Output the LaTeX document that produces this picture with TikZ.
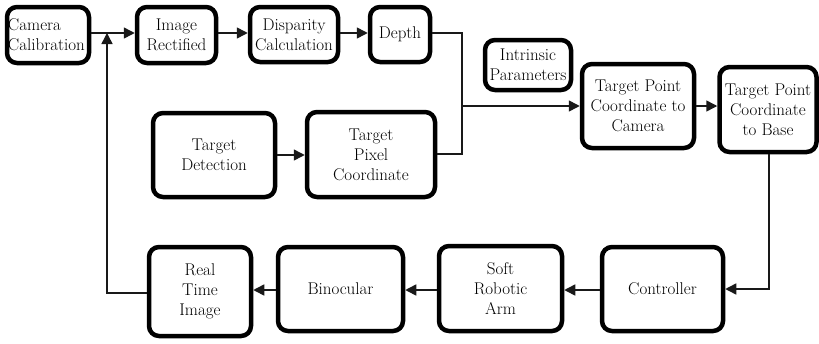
\documentclass[tikz,border=0pt]{standalone}
\usetikzlibrary{arrows.meta}
\begin{document}
\begin{tikzpicture}[x=1pt,y=-1pt,
  box/.style={draw=black, line width=4.5pt, rounded corners=10pt, inner sep=0pt,
    align=center, font=\rmfamily\fontsize{17}{20}\selectfont, text=black},
  conn/.style={line width=1.5pt, draw=black!90},
  arr/.style={conn, -{Triangle[length=11pt,width=11pt]}}]
\useasboundingbox (0,0) rectangle (819,343);
% top row
\node[box, minimum width=82pt, minimum height=56pt, align=left, text width=80pt] (cc) at (48,35) {Camera\\Calibration};
\node[box, minimum width=79pt, minimum height=56pt] (ir) at (176.5,35) {Image\\Rectified};
\node[box, minimum width=88pt, minimum height=55pt] (dc) at (294,34.5) {Disparity\\Calculation};
\node[box, minimum width=60pt, minimum height=55pt] (dp) at (400,34.5) {Depth};
% middle
\node[box, minimum width=122pt, minimum height=84pt] (td) at (214,155) {Target\\Detection};
\node[box, minimum width=128pt, minimum height=85pt] (tp) at (371,154.5) {Target\\Pixel\\Coordinate};
\node[box, minimum width=86pt, minimum height=50pt] (ip) at (528,65) {Intrinsic\\Parameters};
\node[box, minimum width=112pt, minimum height=84pt] (tc) at (638,106) {Target Point\\Coordinate to\\Camera};
\node[box, minimum width=97pt, minimum height=85pt] (tb) at (768,109.5) {Target Point\\Coordinate\\to Base};
% bottom row
\node[box, minimum width=102pt, minimum height=89pt] (rt) at (200,291.5) {Real\\Time\\Image};
\node[box, minimum width=125pt, minimum height=84pt] (bn) at (340.5,289) {Binocular};
\node[box, minimum width=123pt, minimum height=85pt] (sa) at (500.5,288.5) {Soft\\Robotic\\Arm};
\node[box, minimum width=121pt, minimum height=84pt] (ct) at (662.5,289) {Controller};
% helper coordinates
\coordinate (fbTop) at (107,33);
\coordinate (fbBot) at (107,293);
\coordinate (jTop) at (462,33);
\coordinate (jMid) at (462,106);
\coordinate (jBot) at (462,154);
\coordinate (rBot) at (769,289);
% connectors
\draw[arr] (cc.east |- fbTop) -- (ir.west |- fbTop);
\draw[arr] (rt.west |- fbBot) -- (fbBot) -- (fbTop);
\draw[arr] (ir.east |- 0,33) -- (dc.west |- 0,33);
\draw[arr] (dc.east |- 0,33) -- (dp.west |- 0,33);
\draw[conn] (dp.east |- jTop) -- (jTop) -- (jBot) -- (tp.east |- jBot);
\draw[arr] (jMid) -- (tc.west |- jMid);
\draw[arr] (td.east |- 0,155) -- (tp.west |- 0,155);
\draw[arr] (tc.east |- 0,106) -- (tb.west |- 0,106);
\draw[arr] (tb.south -| rBot) -- (rBot) -- (ct.east |- rBot);
\draw[arr] (ct.west |- 0,290) -- (sa.east |- 0,290);
\draw[arr] (sa.west |- 0,290) -- (bn.east |- 0,290);
\draw[arr] (bn.west |- 0,290) -- (rt.east |- 0,290);
\end{tikzpicture}
\end{document}
